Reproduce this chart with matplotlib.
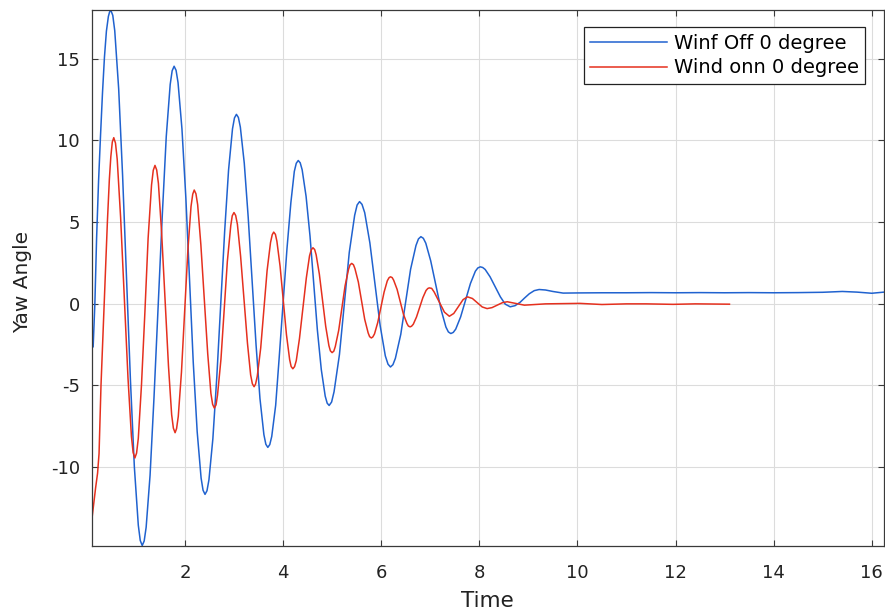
import numpy as np
import matplotlib
matplotlib.use("Agg")
import matplotlib.pyplot as plt

plt.rcParams['font.family'] = ['DejaVu Sans']
plt.rcParams['axes.unicode_minus'] = False

# values (time, yaw angle), one row per half swing
blue_t = [0.13, 0.165, 0.20, 0.24, 0.28, 0.32, 0.36, 0.40, 0.44, 0.465, 0.49,
          0.53, 0.57, 0.65, 0.73, 0.81, 0.89, 0.97, 1.05, 1.09, 1.13,
          1.17, 1.21, 1.29, 1.37, 1.455, 1.54, 1.62, 1.70, 1.74, 1.78,
          1.82, 1.86, 1.94, 2.02, 2.095, 2.17, 2.25, 2.33, 2.37, 2.41,
          2.45, 2.49, 2.57, 2.65, 2.73, 2.81, 2.89, 2.97, 3.01, 3.05,
          3.09, 3.13, 3.21, 3.29, 3.37, 3.45, 3.53, 3.61, 3.65, 3.69,
          3.73, 3.77, 3.85, 3.92, 4.00, 4.08, 4.16, 4.23, 4.27, 4.31,
          4.35, 4.39, 4.47, 4.55, 4.625, 4.70, 4.78, 4.86, 4.90, 4.94,
          4.99, 5.04, 5.15, 5.25, 5.35, 5.46, 5.51, 5.56,
          5.61, 5.665, 5.77, 5.875, 5.98, 6.085, 6.14, 6.19,
          6.24, 6.29, 6.40, 6.50, 6.60, 6.71, 6.76, 6.81,
          6.86, 6.91, 7.01, 7.115, 7.22, 7.32, 7.37, 7.42,
          7.47, 7.52, 7.62, 7.72, 7.82, 7.92, 7.97, 8.02,
          8.07, 8.12, 8.22, 8.325, 8.43, 8.53, 8.63,
          8.73, 8.83, 8.92, 9.02, 9.12, 9.22,
          9.35, 9.5, 9.71, 10.0, 10.5, 11.0, 11.5, 12.0, 12.5,
          13.0, 13.5, 14.0, 14.5, 15.0, 15.4, 15.7, 16.0, 16.25]
blue_y = [-2.65, 0.0, 4.0, 7.5, 10.3, 12.9, 15.1, 16.7, 17.6, 17.88, 17.98,
          17.67, 16.73, 13.17, 7.85, 1.57, -4.71, -10.03, -13.59, -14.53, -14.84,
          -14.56, -13.72, -10.53, -5.77, -0.15, 5.48, 10.24, 13.43, 14.27, 14.55,
          14.30, 13.55, 10.70, 6.45, 1.43, -3.60, -7.85, -10.70, -11.45, -11.70,
          -11.48, -10.81, -8.29, -4.51, -0.05, 4.41, 8.19, 10.71, 11.38, 11.60,
          11.41, 10.82, 8.61, 5.30, 1.39, -2.52, -5.83, -8.04, -8.63, -8.82,
          -8.65, -8.15, -6.24, -3.39, -0.03, 3.34, 6.19, 8.10, 8.60, 8.77,
          8.63, 8.20, 6.57, 4.14, 1.26, -1.62, -4.05, -5.68, -6.11, -6.25,
          -6.04, -5.41, -3.13, 0.0, 3.13, 5.41, 6.04, 6.25,
          6.08, 5.57, 3.72, 1.18, -1.36, -3.21, -3.72, -3.89,
          -3.75, -3.36, -1.89, 0.11, 2.10, 3.56, 3.96, 4.10,
          4.00, 3.70, 2.62, 1.13, -0.36, -1.44, -1.74, -1.84,
          -1.77, -1.57, -0.82, 0.21, 1.23, 1.98, 2.18, 2.25,
          2.21, 2.09, 1.64, 1.03, 0.41, -0.04, -0.20,
          -0.13, 0.07, 0.33, 0.60, 0.79, 0.86,
          0.83, 0.74, 0.64, 0.65, 0.66, 0.66, 0.67, 0.66, 0.67,
          0.66, 0.67, 0.66, 0.67, 0.69, 0.74, 0.70, 0.63, 0.70]

red_t = [0.105, 0.14, 0.18, 0.22, 0.25, 0.29, 0.355, 0.42, 0.46, 0.49, 0.52, 0.55,
         0.585, 0.62, 0.69, 0.765, 0.84, 0.91, 0.945, 0.98,
         1.015, 1.05, 1.115, 1.185, 1.25, 1.32, 1.355, 1.39,
         1.425, 1.46, 1.525, 1.595, 1.665, 1.73, 1.765, 1.80,
         1.83, 1.865, 1.93, 1.995, 2.06, 2.125, 2.16, 2.19,
         2.225, 2.26, 2.325, 2.395, 2.465, 2.53, 2.565, 2.60,
         2.635, 2.665, 2.735, 2.80, 2.865, 2.935, 2.965, 3.00,
         3.035, 3.07, 3.135, 3.205, 3.275, 3.34, 3.375, 3.41,
         3.44, 3.475, 3.545, 3.61, 3.675, 3.745, 3.78, 3.81,
         3.845, 3.875, 3.94, 4.005, 4.07, 4.135, 4.165, 4.20,
         4.235, 4.27, 4.335, 4.405, 4.475, 4.54, 4.575, 4.61,
         4.645, 4.675, 4.74, 4.805, 4.87, 4.935, 4.965, 5.00,
         5.035, 5.065, 5.135, 5.20, 5.265, 5.335, 5.365, 5.40,
         5.435, 5.465, 5.535, 5.60, 5.665, 5.735, 5.765, 5.80,
         5.83, 5.865, 5.93, 5.995, 6.06, 6.125, 6.16, 6.19,
         6.225, 6.255, 6.325, 6.39, 6.455, 6.525, 6.555, 6.59,
         6.62, 6.655, 6.72, 6.785, 6.85, 6.915, 6.95, 6.98,
         7.03, 7.08, 7.185, 7.29, 7.39,
         7.48, 7.575, 7.67, 7.76,
         7.86, 7.96, 8.06, 8.16,
         8.26, 8.365, 8.47, 8.57,
         8.75, 8.92, 9.35, 10.05, 10.5, 11.0, 11.4, 11.95, 12.4, 12.8, 13.1]
red_y = [-13.2, -12.3, -11.3, -10.4, -9.2, -5.0, 0.0, 5.0, 7.6, 9.0, 9.9, 10.17,
         9.84, 8.85, 5.26, 0.35, -4.56, -8.15, -9.14, -9.47,
         -9.17, -8.27, -4.99, -0.50, 3.99, 7.27, 8.17, 8.47,
         8.19, 7.37, 4.37, 0.28, -3.82, -6.82, -7.64, -7.92,
         -7.67, -6.92, -4.20, -0.48, 3.24, 5.96, 6.71, 6.96,
         6.73, 6.06, 3.62, 0.28, -3.07, -5.51, -6.18, -6.41,
         -6.21, -5.61, -3.41, -0.42, 2.58, 4.78, 5.38, 5.58,
         5.40, 4.86, 2.91, 0.24, -2.43, -4.38, -4.92, -5.10,
         -4.94, -4.46, -2.73, -0.36, 2.01, 3.74, 4.22, 4.38,
         4.24, 3.82, 2.29, 0.19, -1.91, -3.44, -3.86, -4.00,
         -3.87, -3.50, -2.15, -0.29, 1.57, 2.92, 3.29, 3.42,
         3.31, 2.99, 1.81, 0.21, -1.40, -2.58, -2.90, -3.01,
         -2.92, -2.64, -1.64, -0.28, 1.09, 2.09, 2.37, 2.46,
         2.38, 2.15, 1.32, 0.18, -0.97, -1.80, -2.03, -2.11,
         -2.05, -1.86, -1.17, -0.24, 0.70, 1.39, 1.58, 1.64,
         1.59, 1.43, 0.87, 0.11, -0.66, -1.22, -1.38, -1.43,
         -1.39, -1.27, -0.83, -0.24, 0.36, 0.80, 0.92, 0.96,
         0.93, 0.71, 0.09, -0.53, -0.78,
         -0.61, -0.19, 0.24, 0.41,
         0.31, 0.05, -0.21, -0.31,
         -0.25, -0.10, 0.05, 0.11,
         0.0, -0.10, -0.02, 0.01, -0.06, -0.02, -0.02, -0.05, -0.02, -0.03, -0.04]

labels = ["Winf Off 0 degree", "Wind onn 0 degree"]
x_ticks = [2, 4, 6, 8, 10, 12, 14, 16]
y_ticks = [-10, -5, 0, 5, 10, 15]

fig = plt.figure(figsize=(8.85, 6.12), dpi=100)
ax = fig.add_axes([0.1036, 0.1083, 0.8953, 0.8754])

ax.plot(blue_t, blue_y, color='#2062cf', lw=1.1, solid_joinstyle='round', label=labels[0])
ax.plot(red_t, red_y, color='#e5301e', lw=1.1, solid_joinstyle='round', label=labels[1])

ax.set_xlim(0.10, 16.25)
ax.set_ylim(-14.85, 18.0)
ax.set_xticks(x_ticks)
ax.set_yticks(y_ticks)
ax.grid(True, color='#dcdcdc', lw=0.8)
ax.set_axisbelow(True)

for sp in ax.spines.values():
    sp.set_color('#3a3a3a')
    sp.set_linewidth(0.9)
ax.tick_params(direction='in', top=True, right=True, length=4, width=0.8,
               color='#3a3a3a', labelsize=13, labelcolor='#222222')
ax.tick_params(axis='x', pad=13)
ax.tick_params(axis='y', pad=8.4)

ax.set_xlabel("Time", fontsize=15.5, labelpad=6.3, color='#222222')
ax.set_ylabel("Yaw Angle", fontsize=14.5, color='#222222')
ax.yaxis.set_label_coords(-0.0747, 0.493)

leg = ax.legend(loc='upper right', bbox_to_anchor=(0.976, 0.968), borderaxespad=0,
                fontsize=14, fancybox=False, framealpha=1, edgecolor='#222222',
                handlelength=3.93, handletextpad=0.36, labelspacing=0.3,
                borderpad=0.33)
leg.get_frame().set_linewidth(0.9)

fig.savefig("out.png", dpi=100)
